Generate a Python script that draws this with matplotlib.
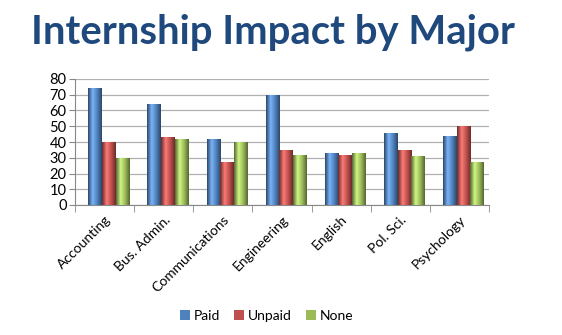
import numpy as np
import matplotlib
matplotlib.use("Agg")
import matplotlib.pyplot as plt
from matplotlib.colors import LinearSegmentedColormap, to_rgb

plt.rcParams['font.family'] = ['Lato', 'DejaVu Sans']

# data
majors = ["Accounting", "Bus. Admin.", "Communications", "Engineering",
          "English", "Pol. Sci.", "Psychology"]
paid = [74, 64, 42, 70, 33, 46, 44]
unpaid = [40, 43, 27, 35, 32, 35, 50]
none = [30, 42, 40, 32, 33, 31, 27]
series_names = ["Paid", "Unpaid", "None"]
series_colors = ["#4F81BD", "#C0504D", "#9BBB59"]
yticks = list(range(0, 81, 10))

fig = plt.figure(figsize=(5.62, 3.35), dpi=100)
ax = fig.add_axes([75 / 562, 1 - 205 / 335, (489 - 75) / 562, (205 - 79) / 335])

x = np.arange(len(majors))
w = 0.23
shift = 0.07


def cyl_cmap(c):
    r, g, b = to_rgb(c)
    dark = (r * 0.55, g * 0.55, b * 0.55)
    light = tuple(min(1, v * 1.15 + 0.12) for v in (r, g, b))
    return LinearSegmentedColormap.from_list("c", [dark, light, (r, g, b), dark])


grad = np.linspace(0, 1, 64).reshape(1, -1)
for i, (vals, name, col) in enumerate(zip([paid, unpaid, none], series_names, series_colors)):
    bars = ax.bar(x + shift + (i - 1) * w, vals, w, color=col, label=name, zorder=3)
    cm = cyl_cmap(col)
    for b in bars:
        x0, y0 = b.get_x(), b.get_y()
        im = ax.imshow(grad, cmap=cm, aspect="auto", zorder=3,
                       extent=(x0, x0 + b.get_width(), y0, y0 + b.get_height()))
        im.set_clip_path(b)

ax.set_xlim(-0.5, len(majors) - 0.5)
ax.set_ylim(0, 80)
ax.set_yticks(yticks)
ax.tick_params(axis="y", labelsize=10.5, length=4, color="#888888", pad=2)
ax.set_xticks(np.arange(len(majors) + 1) - 0.5, minor=True)
ax.set_xticks(x)
ax.set_xticklabels(majors, rotation=45, ha="right", rotation_mode="anchor", fontsize=10)
ax.tick_params(axis="x", which="major", length=0, pad=6)
ax.tick_params(axis="x", which="minor", length=5, color="#888888")
ax.grid(axis="y", color="#B0B0B0", linewidth=0.9, zorder=0)
for s in ["top", "right"]:
    ax.spines[s].set_visible(False)
for s in ["left", "bottom"]:
    ax.spines[s].set_color("#888888")

fig.text(0.486, 0.96, "Internship Impact by Major", ha="center", va="top",
         fontsize=28.8, fontweight="bold", color="#1F497D")

fig.legend(loc="center", bbox_to_anchor=(0.475, 0.058), ncol=3, frameon=False,
           fontsize=10, handlelength=0.7, handleheight=0.7, handletextpad=0.3,
           columnspacing=1.0)

fig.savefig("out.png", dpi=100)
